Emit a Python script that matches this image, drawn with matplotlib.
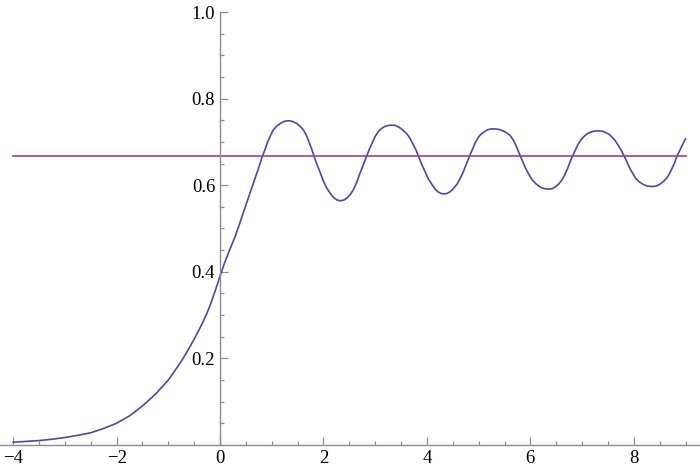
import matplotlib.pyplot as plt
from matplotlib import font_manager
from matplotlib.ticker import FixedLocator

SERIF = "Liberation Serif"
# fail loudly if the serif face is not there
font_manager.findfont(SERIF, fallback_to_default=False)
plt.rcParams["font.family"] = [SERIF, "DejaVu Serif"]

# Data
curve_x = [-4.0, -3.75, -3.5, -3.25, -3.0, -2.75, -2.5, -2.25, -2.0, -1.75,
           -1.5, -1.25, -1.0, -0.87, -0.74, -0.61, -0.48, -0.35, -0.25, -0.16,
           -0.08, 0.0, 0.08, 0.16, 0.28, 0.37, 0.45, 0.55, 0.66, 0.74,
           0.81, 0.87, 0.92, 0.98, 1.03, 1.10, 1.18, 1.25, 1.33, 1.41,
           1.48, 1.55, 1.61, 1.67, 1.72, 1.77, 1.82, 1.88, 1.94, 2.00,
           2.06, 2.13, 2.20, 2.26, 2.33, 2.40, 2.46, 2.52, 2.58, 2.64,
           2.70, 2.77, 2.83, 2.89, 2.95, 3.00, 3.06, 3.12, 3.19, 3.25,
           3.32, 3.39, 3.46, 3.53, 3.61, 3.67, 3.73, 3.79, 3.84, 3.90,
           3.97, 4.03, 4.10, 4.16, 4.21, 4.27, 4.33, 4.39, 4.45, 4.51,
           4.58, 4.64, 4.70, 4.76, 4.82, 4.88, 4.93, 4.98, 5.03, 5.10,
           5.17, 5.24, 5.32, 5.39, 5.46, 5.53, 5.61, 5.66, 5.71, 5.76,
           5.81, 5.87, 5.92, 5.98, 6.04, 6.11, 6.20, 6.27, 6.35, 6.42,
           6.48, 6.55, 6.61, 6.66, 6.71, 6.76, 6.81, 6.87, 6.92, 6.98,
           7.03, 7.10, 7.17, 7.24, 7.32, 7.39, 7.45, 7.52, 7.58, 7.64,
           7.70, 7.76, 7.82, 7.87, 7.92, 7.98, 8.03, 8.10, 8.18, 8.26,
           8.35, 8.43, 8.50, 8.57, 8.64, 8.69, 8.74, 8.79, 8.83, 8.88,
           8.92, 8.96, 9.00]
curve_y = [0.006, 0.008, 0.010, 0.013, 0.017, 0.022, 0.028, 0.038, 0.050, 0.067,
           0.090, 0.117, 0.150, 0.172, 0.195, 0.221, 0.249, 0.279, 0.305, 0.333,
           0.361, 0.390, 0.418, 0.443, 0.478, 0.508, 0.537, 0.572, 0.610, 0.638,
           0.664, 0.683, 0.700, 0.716, 0.728, 0.737, 0.744, 0.748, 0.749, 0.747,
           0.743, 0.736, 0.728, 0.715, 0.700, 0.684, 0.666, 0.646, 0.628, 0.609,
           0.594, 0.581, 0.571, 0.566, 0.564, 0.566, 0.571, 0.579, 0.590, 0.606,
           0.626, 0.647, 0.666, 0.684, 0.700, 0.713, 0.724, 0.731, 0.736, 0.738,
           0.739, 0.738, 0.734, 0.728, 0.719, 0.709, 0.695, 0.681, 0.666, 0.648,
           0.630, 0.614, 0.601, 0.591, 0.585, 0.581, 0.580, 0.581, 0.585, 0.592,
           0.602, 0.615, 0.630, 0.648, 0.666, 0.683, 0.697, 0.708, 0.716, 0.723,
           0.728, 0.730, 0.730, 0.729, 0.726, 0.722, 0.715, 0.706, 0.695, 0.681,
           0.666, 0.650, 0.636, 0.623, 0.612, 0.603, 0.595, 0.592, 0.591, 0.592,
           0.596, 0.603, 0.612, 0.623, 0.636, 0.651, 0.666, 0.681, 0.694, 0.705,
           0.712, 0.719, 0.723, 0.725, 0.7255, 0.725, 0.722, 0.718, 0.711, 0.703,
           0.692, 0.680, 0.666, 0.653, 0.640, 0.627, 0.617, 0.608, 0.602, 0.598,
           0.597, 0.598, 0.602, 0.608, 0.617, 0.627, 0.639, 0.652, 0.666, 0.678,
           0.688, 0.698, 0.707]

level_x = [-4.0, 9.0]
level_y = [0.6667, 0.6667]

x_ticks = [-4, -2, 0, 2, 4, 6, 8]
x_minor = [-3.5, -3, -2.5, -1.5, -1, -0.5, 0.5, 1, 1.5, 2.5, 3, 3.5,
           4.5, 5, 5.5, 6.5, 7, 7.5, 8.5, 9]
y_ticks = [0.2, 0.4, 0.6, 0.8, 1.0]
y_minor = [0.05, 0.1, 0.15, 0.25, 0.3, 0.35, 0.45, 0.5, 0.55,
           0.65, 0.7, 0.75, 0.85, 0.9, 0.95]

AXIS_COLOR = "#8c8c8c"

fig = plt.figure(figsize=(7, 4.73), dpi=100)
ax = fig.add_axes([0, 0, 1, 1])
ax.patch.set_alpha(0)

ax.plot(curve_x, curve_y, color="#4b48a6", lw=1.2, solid_joinstyle="round")
ax.plot(level_x, level_y, color="#a83d7c", lw=1.2)

ax.set_xlim(-4.255, 9.28)
ax.set_ylim(-0.065, 1.028)

for side in ["top", "right"]:
    ax.spines[side].set_visible(False)
ax.spines["left"].set_position(("data", 0))
ax.spines["bottom"].set_position(("data", 0))
ax.spines["left"].set_bounds(0, 1.0)
for side in ["left", "bottom"]:
    ax.spines[side].set_color(AXIS_COLOR)
    ax.spines[side].set_linewidth(1.0)

ax.xaxis.set_major_locator(FixedLocator(x_ticks))
ax.xaxis.set_minor_locator(FixedLocator(x_minor))
ax.yaxis.set_major_locator(FixedLocator(y_ticks))
ax.yaxis.set_minor_locator(FixedLocator(y_minor))
ax.set_xticklabels(["\u2212" + str(-t) if t < 0 else str(t) for t in x_ticks],
                   fontfamily=SERIF, fontsize=13.5)
ax.set_yticklabels(["%.1f" % t for t in y_ticks],
                   fontfamily=SERIF, fontsize=13.5)

ax.tick_params(which="both", direction="in", color=AXIS_COLOR, width=0.9)
ax.tick_params(which="major", length=5.8)
ax.tick_params(which="minor", length=3.2)
ax.tick_params(axis="x", which="major", pad=4)
ax.tick_params(axis="y", which="major", pad=3.5)

fig.savefig("out.png", dpi=100)
